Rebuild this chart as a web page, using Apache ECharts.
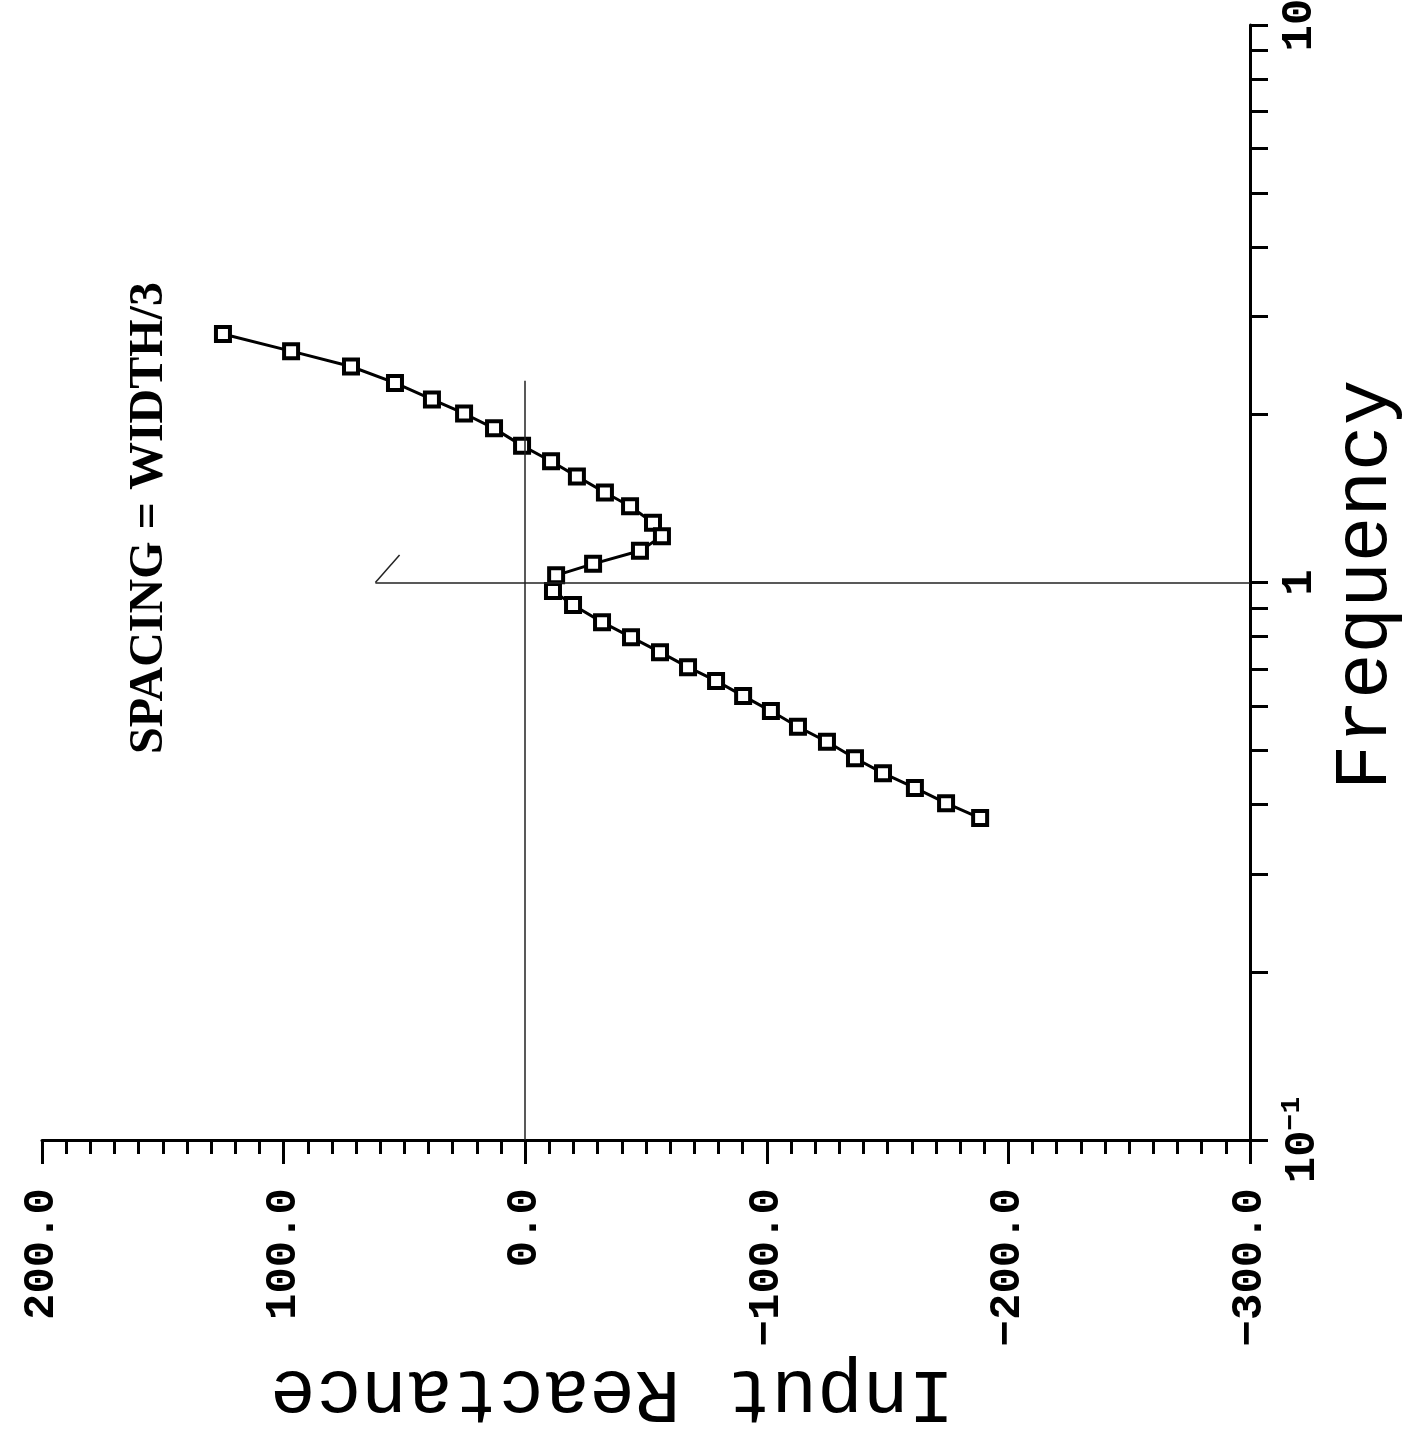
<!DOCTYPE html>
<html>
<head>
<meta charset="utf-8">
<script src="https://cdn.jsdelivr.net/npm/echarts@6/dist/echarts.min.js"></script>
<style>
  html, body { margin: 0; padding: 0; background: #fff; }
  #chart { width: 1421px; height: 1433px; }
</style>
</head>
<body>
<div id="chart"></div>
<script>
// points, in order along the curve
const frequency = [2.79, 2.60, 2.44, 2.28, 2.13, 2.01, 1.89, 1.76, 1.65, 1.55, 1.45,
  1.37, 1.28, 1.21, 1.14, 1.08, 1.03, 0.966, 0.911, 0.849, 0.798, 0.750, 0.705,
  0.666, 0.626, 0.588, 0.551, 0.518, 0.484, 0.455, 0.428, 0.402, 0.378];
const reactance = [125.1, 96.9, 72.1, 53.9, 38.6, 25.3, 12.9, 1.3, -10.7, -21.4, -33.0,
  -43.4, -52.9, -56.6, -47.5, -28.1, -12.8, -11.5, -19.8, -31.8, -43.8, -55.8, -67.4,
  -79.0, -90.2, -101.7, -112.9, -124.9, -136.5, -148.1, -161.3, -174.2, -188.3];

const freqTicks = [0.1, 0.2, 0.3, 0.4, 0.5, 0.6, 0.7, 0.8, 0.9, 1, 2, 3, 4, 5, 6, 7, 8, 9, 10];
const freqLabels = [0.1, 1, 10];

// guide lines drawn on the original sheet
const zeroLine = [[0, 0.1], [0, 2.3]];
const resLine = [[62, 1.0], [-300, 1.0]];
const resFlag = [[62, 1.0], [52, 1.12]];

const chart = echarts.init(document.getElementById("chart"));

const pts = frequency.map((f, i) => [reactance[i], f]);
const mono = "'Liberation Mono', 'Courier New', monospace";

const option = {
  backgroundColor: "#fff",
  animation: false,
  grid: { left: 42, right: 171, top: 25, bottom: 293, outerBoundsMode: "none" },
  xAxis: {
    type: "value",
    min: -300,
    max: 200,
    interval: 100,
    inverse: true,
    position: "bottom",
    splitLine: { show: false },
    axisLine: { onZero: false, lineStyle: { color: "#000", width: 3 } },
    axisTick: { length: 24, lineStyle: { color: "#000", width: 3 } },
    minorTick: { show: true, splitNumber: 10, length: 14, lineStyle: { color: "#000", width: 3 } },
    axisLabel: {
      rotate: 90,
      margin: 48,
      color: "#000",
      fontFamily: mono,
      fontWeight: "bold",
      fontSize: 44,
      formatter: (v) => (v < 0 ? "\u2212" + (-v).toFixed(1) : v.toFixed(1)),
    },
    name: "Input Reactance",
    nameLocation: "middle",
    nameRotate: 180,
    nameGap: 207,
    nameTextStyle: { color: "#000", fontFamily: mono, fontSize: 76, padding: [0, 0, 0, 68] },
  },
  yAxis: {
    type: "log",
    min: 0.1,
    max: 10,
    position: "right",
    splitLine: { show: false },
    axisLine: { onZero: false, lineStyle: { color: "#000", width: 3 } },
    axisTick: { length: 18, customValues: freqTicks, lineStyle: { color: "#000", width: 3 } },
    axisLabel: {
      customValues: freqLabels,
      rotate: 90,
      margin: 28,
      color: "#000",
      fontFamily: mono,
      fontWeight: "bold",
      fontSize: 44,
      formatter: (v) => (v < 0.5 ? "{n|10}{s|\u22121}" : String(Math.round(v))),
      rich: {
        n: { fontFamily: mono, fontWeight: "bold", fontSize: 44, color: "#000" },
        s: { fontFamily: mono, fontWeight: "bold", fontSize: 28, color: "#000", verticalAlign: "top", padding: [0, 0, 22, 0] },
      },
    },
  },
  graphic: [
    {
      type: "text",
      x: 150,
      y: 518,
      rotation: Math.PI / 2,
      style: {
        text: "SPACING = WIDTH/3",
        font: "bold 48px 'Liberation Serif'",
        fill: "#000",
        align: "center",
        verticalAlign: "middle",
      },
    },
    {
      type: "text",
      x: 1366,
      y: 585,
      rotation: Math.PI / 2,
      style: {
        text: "Frequency",
        font: "76px 'Liberation Mono'",
        fill: "#000",
        align: "center",
        verticalAlign: "middle",
      },
    },
  ],
  series: [
    {
      type: "line",
      data: pts,
      symbol: "rect",
      symbolSize: 14,
      lineStyle: { color: "#000", width: 3 },
      itemStyle: { color: "#fff", borderColor: "#000", borderWidth: 4 },
      markLine: {
        silent: true,
        symbol: "none",
        label: { show: false },
        lineStyle: { color: "#222", width: 1.5, type: "solid" },
        data: [zeroLine, resLine, resFlag].map((seg) => seg.map((c) => ({ coord: c }))),
      },
    },
  ],
};

chart.setOption(option);
</script>
</body>
</html>
